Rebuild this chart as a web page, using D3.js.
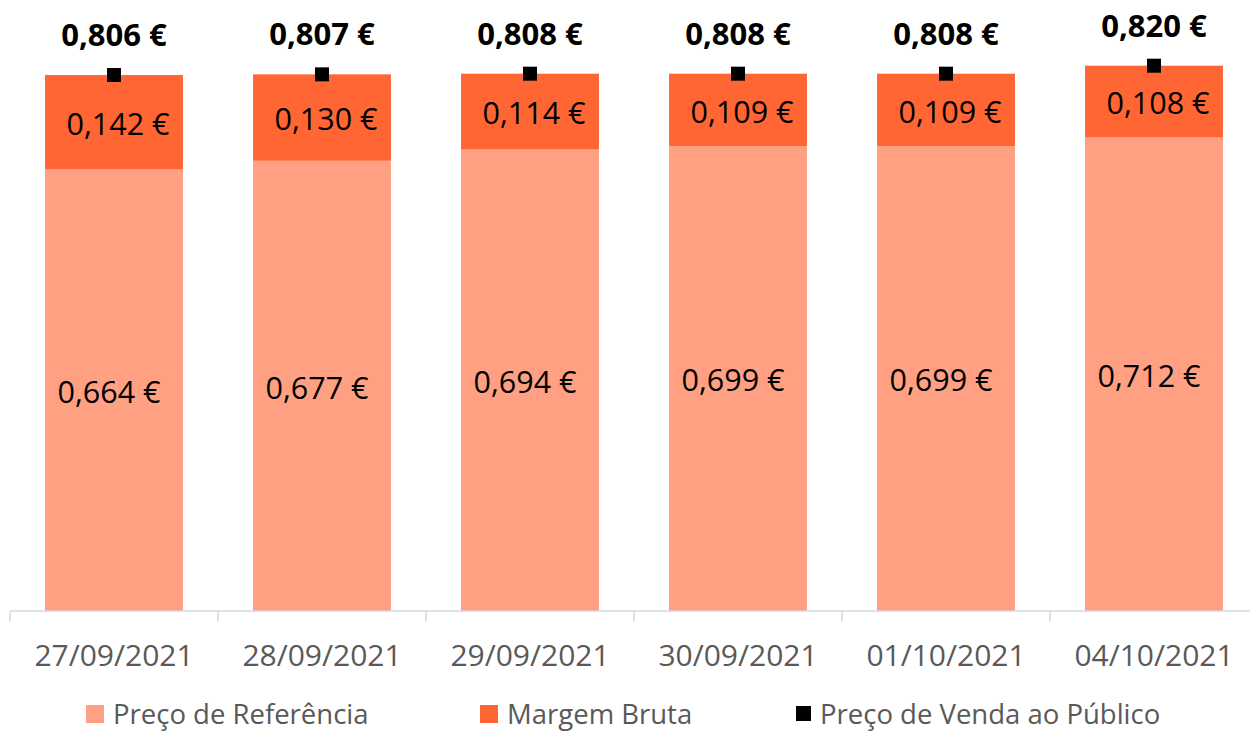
<!DOCTYPE html>
<html><head><meta charset="utf-8">
<script src="https://cdn.jsdelivr.net/npm/d3@7"></script>
<style>body{margin:0;background:#fff}svg{display:block;font-family:"Open Sans",sans-serif}</style>
</head><body><svg id="c" width="1250" height="732"></svg>
<script>
const categories = ["27/09/2021","28/09/2021","29/09/2021","30/09/2021","01/10/2021","04/10/2021"];
const precoReferencia = [0.664,0.677,0.694,0.699,0.699,0.712];
const margemBruta = [0.142,0.130,0.114,0.109,0.109,0.108];
const precoVenda = [0.806,0.807,0.808,0.808,0.808,0.820];
const seriesNames = ["Preço de Referência","Margem Bruta","Preço de Venda ao Público"];
const colors = ["#FFA083","#FF6633","#000000"];

const svg = d3.select("#c");
const x = d3.scaleBand().domain(categories).range([10,1258]).padding(0);
const y = d3.scaleLinear().domain([0,0.9]).range([611, 611-598.5]);
const barW = x.bandwidth()*0.663;
const fmt = v => d3.format(".3f")(v).replace(".",",") + " €";

const data = categories.map((c,i)=>({c, r:precoReferencia[i], m:margemBruta[i], p:precoVenda[i]}));

const g = svg.append("g");
// bars
g.selectAll(".ref").data(data).join("rect")
  .attr("x", d=>x(d.c)+(x.bandwidth()-barW)/2).attr("width", barW)
  .attr("y", d=>y(d.r)).attr("height", d=>y(0)-y(d.r)).attr("fill", colors[0]);
g.selectAll(".mar").data(data).join("rect")
  .attr("x", d=>x(d.c)+(x.bandwidth()-barW)/2).attr("width", barW)
  .attr("y", d=>y(d.r+d.m)).attr("height", d=>y(d.r)-y(d.r+d.m)).attr("fill", colors[1]);

// axis
const ax = svg.append("g").attr("transform","translate(0,611)")
  .call(d3.axisBottom(x).tickSize(0).tickPadding(34));
ax.select(".domain").attr("stroke","#d9d9d9").attr("stroke-width",1.5).attr("d","M10,0H1250");
ax.selectAll(".tick text").attr("font-size",30).attr("fill","#595959").attr("font-family","'Open Sans',sans-serif");
const tickPos = categories.map(c=>x(c));
svg.append("g").selectAll("line").data(tickPos).join("line")
  .attr("x1",d=>d).attr("x2",d=>d).attr("y1",611).attr("y2",622)
  .attr("stroke","#d9d9d9").attr("stroke-width",1.5);

// segment labels
g.selectAll(".lr").data(data).join("text")
  .attr("x", d=>x(d.c)+x.bandwidth()/2 - 5).attr("y", d=>(y(d.r)+y(0))/2 + 2)
  .attr("dy","0.35em").attr("text-anchor","middle").attr("font-size",30.5).attr("fill","#000")
  .text(d=>fmt(d.r));
g.selectAll(".lm").data(data).join("text")
  .attr("x", d=>x(d.c)+x.bandwidth()/2 + 4).attr("y", d=>(y(d.r)+y(d.r+d.m))/2 + 2)
  .attr("dy","0.35em").attr("text-anchor","middle").attr("font-size",30.5).attr("fill","#000")
  .text(d=>fmt(d.m));

// markers
g.selectAll(".pt").data(data).join("rect")
  .attr("x", d=>x(d.c)+x.bandwidth()/2-7).attr("y", d=>y(d.p)-7)
  .attr("width",14).attr("height",14).attr("fill",colors[2]);
g.selectAll(".lp").data(data).join("text")
  .attr("x", d=>x(d.c)+x.bandwidth()/2).attr("y", d=>y(d.p)-40)
  .attr("dy","0.35em").attr("text-anchor","middle").attr("font-size",31).attr("font-weight","bold").attr("fill","#000")
  .text(d=>fmt(d.p));

// legend
const legX = [86, 480, 796];
const leg = svg.append("g").selectAll("g").data(seriesNames).join("g")
  .attr("transform",(d,i)=>`translate(${legX[i]},714)`);
leg.append("rect").attr("x",0).attr("y",(d,i)=>i==2?-8:-9).attr("width",(d,i)=>i==2?15:18).attr("height",(d,i)=>i==2?15:18)
  .attr("fill",(d,i)=>colors[i]);
leg.append("text").attr("x",(d,i)=>i==2?24:27).attr("dy","0.35em").attr("font-size",27.5).attr("fill","#595959").text(d=>d);
</script></body></html>
